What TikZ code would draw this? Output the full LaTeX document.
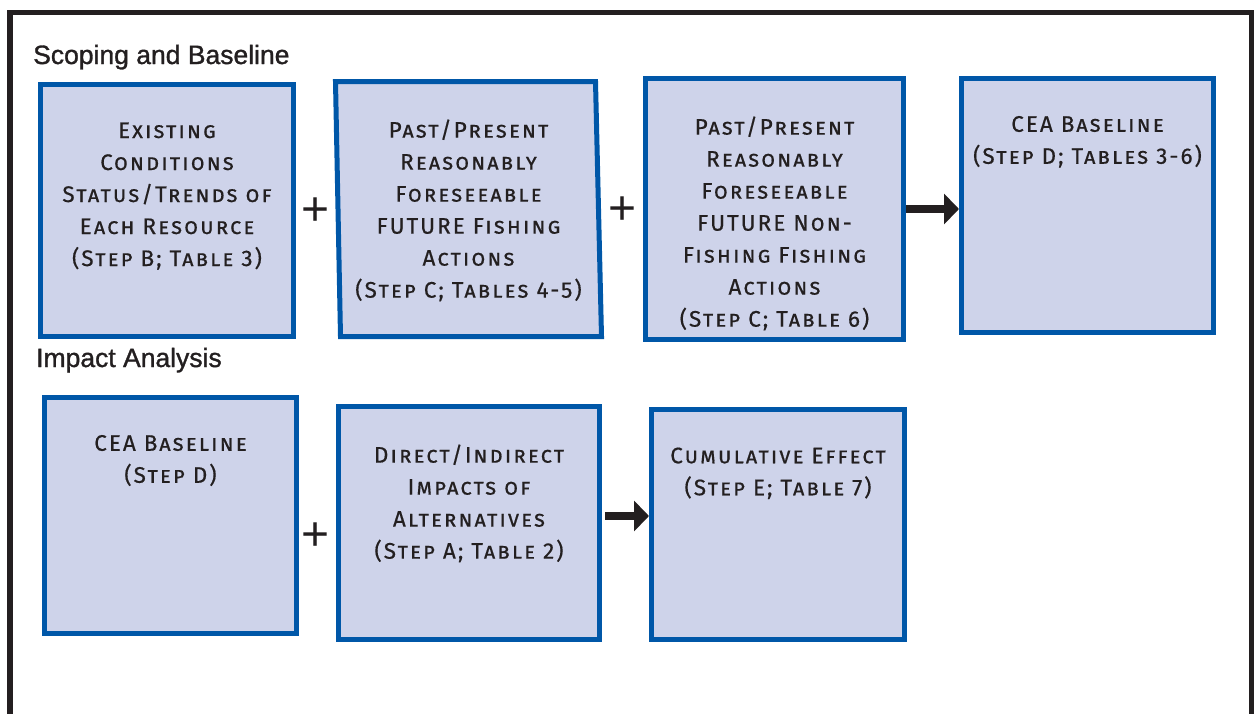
\documentclass[tikz,border=0pt]{standalone}
\usepackage{fontspec}
\setmainfont{Liberation Sans}
\newfontfamily\stagefam[Letters=SmallCaps, LetterSpace=9, FakeBold=0.5]{Fira Sans}
\newfontfamily\headfam[FakeBold=1.2]{Liberation Sans}
\usetikzlibrary{positioning, arrows.meta, calc, backgrounds}

\definecolor{stageblue}{RGB}{0,87,168}
\definecolor{stagefill}{RGB}{206,211,234}
\definecolor{inkgray}{RGB}{35,31,32}

\newcommand{\stagetext}[2]{\parbox[c][#1][t]{250pt}{\centering\vspace*{38pt}#2}}

\begin{document}
\begin{tikzpicture}[
    x=1pt, y=1pt,
    node distance=37pt,
    stage/.style={rectangle, draw=stageblue, fill=stagefill, line width=5pt, inner sep=0pt, text=inkgray, font=\stagefam\fontsize{22.5}{32}\selectfont},
    heading/.style={anchor=base west, inner sep=0pt, text=inkgray, font=\headfam\fontsize{26.5}{28}\selectfont},
    plus/.style={inner sep=0pt, text=inkgray, font=\fontsize{48}{48}\selectfont},
    arrow/.style={-{Triangle[length=15pt, width=30pt]}, line width=8pt, draw=inkgray}
  ]
  \useasboundingbox (0,0) rectangle (1254,-713);

  % outer frame
  \draw[inkgray, line width=5.5pt] (10,-760) |- (1251.5,-12.5) -- (1251.5,-760);

  % headings
  \node[heading] (scoping) at (33,-64) {Scoping and Baseline};
  \node[heading] (impact) at (36,-367) {Impact Analysis};

  % scoping row
  \node[stage, minimum width=253pt, minimum height=252pt] (exist) at (167,-210.5)
    {\stagetext{252pt}{Existing\\Conditions\\Status/Trends of\\Each Resource\\(Step B; Table 3)}};
  \node[stage, draw=none, fill=none, outer sep=0pt, minimum width=266pt, minimum height=255pt, right=39.5pt of exist, yshift=1.5pt] (fishing)
    {\stagetext{255pt}{Past/Present\\Reasonably\\Foreseeable\\FUTURE Fishing\\Actions\\(Step C; Tables 4-5)}};
  \node[stage, minimum width=258pt, minimum height=261pt, right=41.5pt of fishing] (nonfish)
    {\stagetext{261pt}{Past/Present\\Reasonably\\Foreseeable\\FUTURE Non-\\Fishing Fishing\\Actions\\(Step C; Table 6)}};
  \node[stage, minimum width=252pt, minimum height=254pt, right=53pt of nonfish, yshift=4pt] (cea)
    {\stagetext{254pt}{CEA Baseline\\(Step D; Tables 3-6)}};

  % slanted box behind the fishing text
  \begin{scope}[on background layer]
    \draw[stageblue, fill=stagefill, line width=5pt] (fishing.north west) -- ([xshift=-6pt]fishing.north east)
      -- (fishing.south east) -- ([xshift=5pt]fishing.south west) -- cycle;
  \end{scope}

  \node[plus] (plusa) at ($(exist.east)!.5!(fishing.west)+(0,-2)$) {+};
  \node[plus] (plusb) at ($(fishing.east)!.5!(nonfish.west)+(0,-2)$) {+};
  \draw[arrow] (nonfish.east) -- (nonfish.east -| cea.west);

  % impact row
  \node[stage, minimum width=252pt, minimum height=236pt] (basetwo) at (170.5,-515)
    {\stagetext{236pt}{CEA Baseline\\(Step D)}};
  \node[stage, minimum width=261pt, minimum height=233pt, right=of basetwo, yshift=-8pt] (direct)
    {\stagetext{233pt}{Direct/Indirect\\Impacts of\\Alternatives\\(Step A; Table 2)}};
  \node[stage, minimum width=253pt, minimum height=230pt, right=47pt of direct, yshift=-1.5pt] (cumul)
    {\stagetext{230pt}{Cumulative Effect\\(Step E; Table 7)}};

  \node[plus] (plusc) at ($(basetwo.east)!.5!(direct.west)+(-2,-18)$) {+};
  \draw[arrow] ([xshift=3pt, yshift=7pt]direct.east) -- ([yshift=7pt]direct.east -| cumul.west);

\end{tikzpicture}
\end{document}
